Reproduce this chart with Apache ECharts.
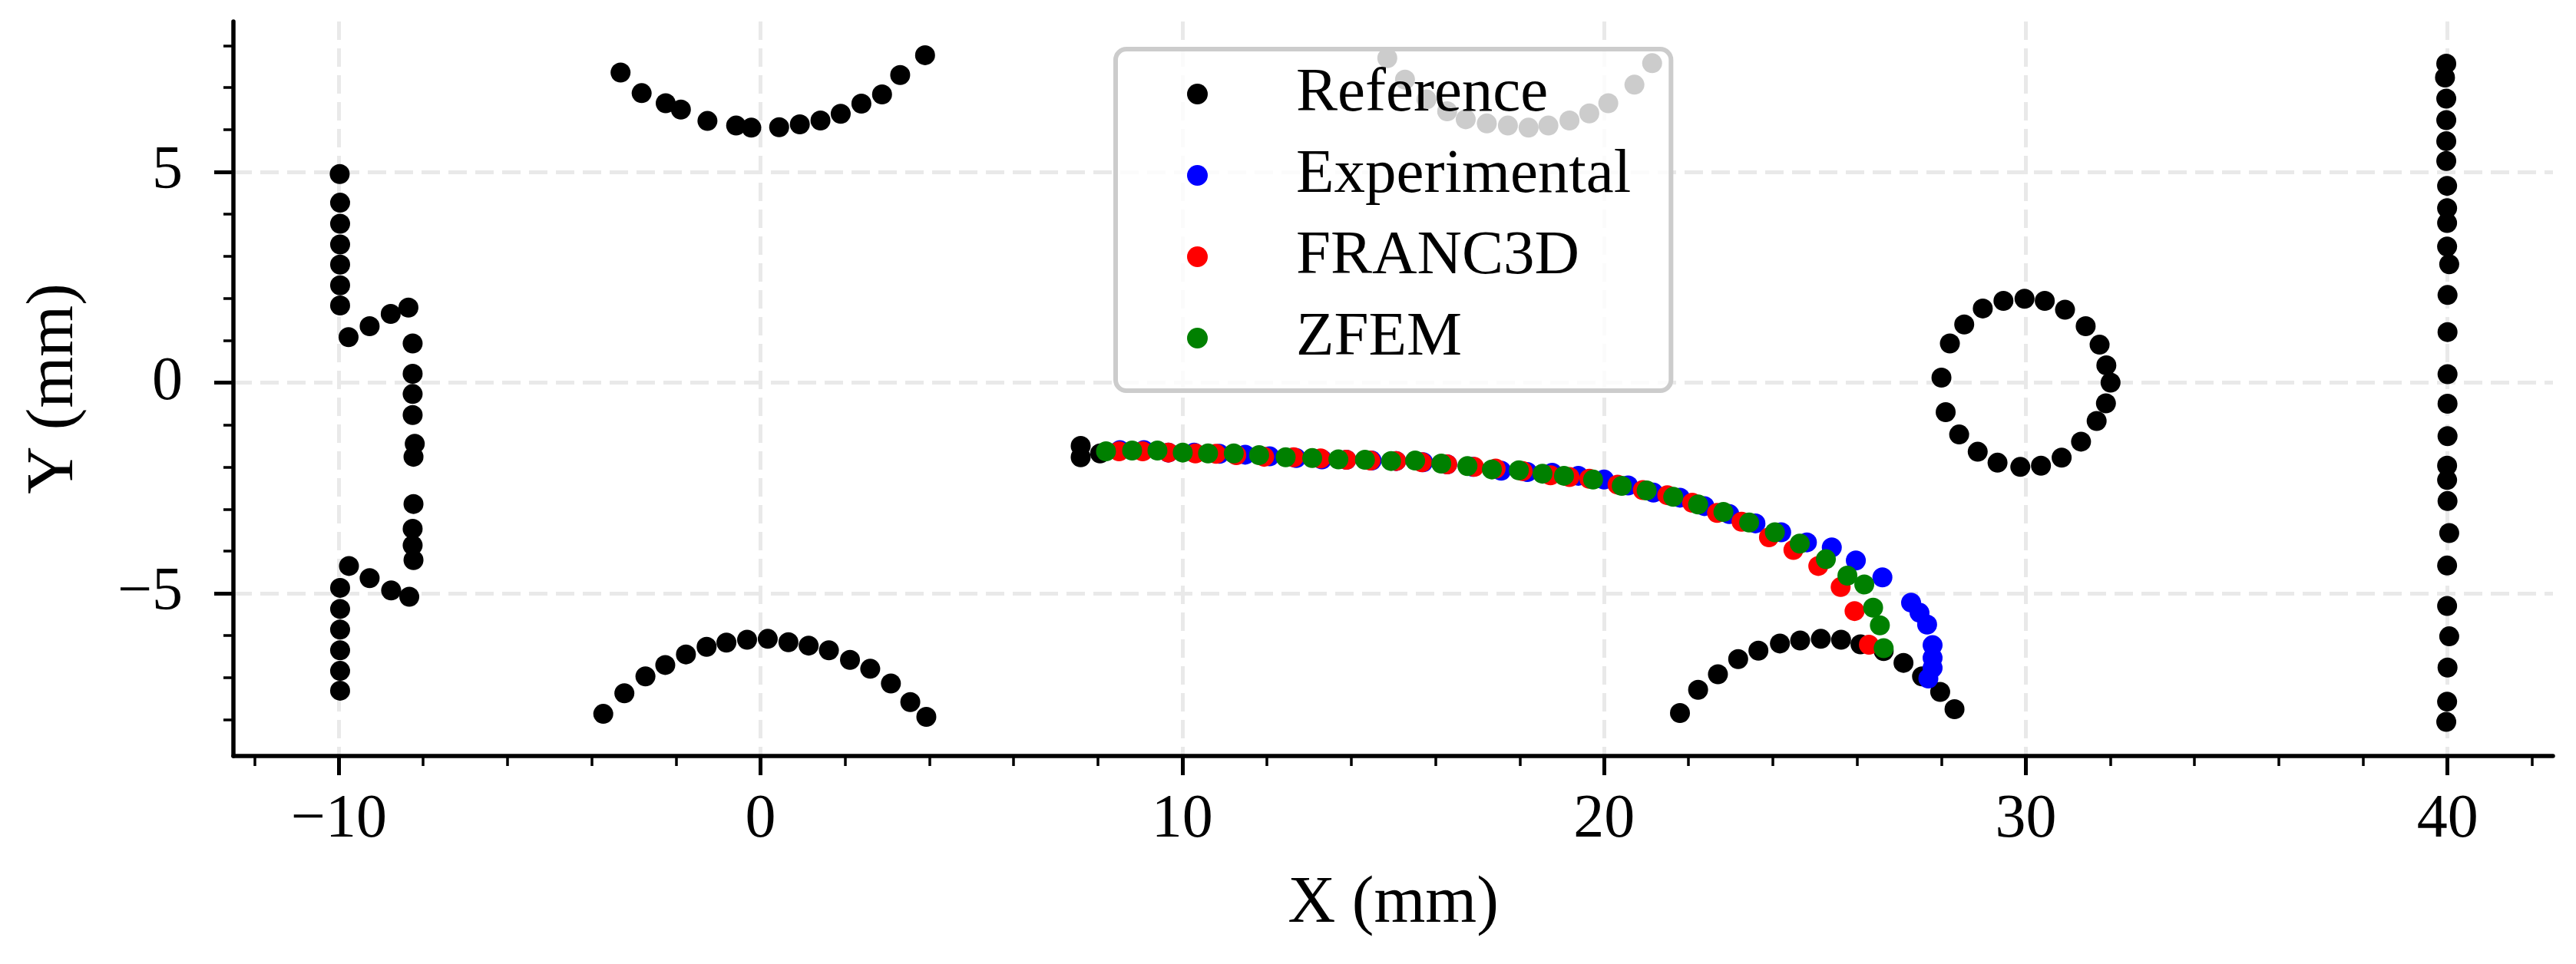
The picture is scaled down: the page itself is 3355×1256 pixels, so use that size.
<!DOCTYPE html>
<html>
<head>
<meta charset="utf-8">
<title>Crack path comparison</title>
<script src="https://cdn.jsdelivr.net/npm/echarts@6/dist/echarts.min.js"></script>
<style>
  html, body { margin: 0; padding: 0; background: #fff; }
  #chart { width: 3355px; height: 1256px; }
</style>
</head>
<body>
<div id="chart"></div>
<script>
// ---- data (mm) ----
const seriesNames = ['Reference', 'Experimental', 'FRANC3D', 'ZFEM'];

const xMajorTicks = [-10, 0, 10, 20, 30, 40];
const xMinorTicks = [-12, -8, -6, -4, -2, 2, 4, 6, 8, 12, 14, 16, 18, 22, 24, 26, 28, 32, 34, 36, 38, 42];
const yMajorTicks = [-5, 0, 5];
const yMinorTicks = [-8, -7, -6, -4, -3, -2, -1, 1, 2, 3, 4, 6, 7, 8];

// reference geometry, split by feature
const refLeftFeature = [
  [-9.98, 4.95], [-9.97, 4.27], [-9.97, 3.77], [-9.97, 3.28], [-9.97, 2.80], [-9.97, 2.31], [-9.97, 1.83],
  [-9.77, 1.08], [-9.27, 1.34], [-8.77, 1.63], [-8.35, 1.78],
  [-8.25, 0.93], [-8.25, 0.21], [-8.25, -0.27], [-8.25, -0.77], [-8.20, -1.45], [-8.23, -1.76],
  [-8.23, -2.88], [-8.25, -3.47], [-8.25, -3.86], [-8.23, -4.21],
  [-9.76, -4.35], [-9.27, -4.64], [-8.76, -4.93], [-8.33, -5.08],
  [-9.97, -4.87], [-9.97, -5.37], [-9.97, -5.86], [-9.97, -6.35], [-9.97, -6.84], [-9.97, -7.31]
];
const refTopArcA = [
  [-3.32, 7.36], [-2.82, 6.87], [-2.25, 6.63], [-1.89, 6.48], [-1.26, 6.21], [-0.58, 6.10], [-0.22, 6.05],
  [0.44, 6.06], [0.93, 6.13], [1.42, 6.22], [1.90, 6.38], [2.39, 6.62], [2.88, 6.84], [3.31, 7.30], [3.90, 7.77]
];
const refBottomArcA = [
  [-3.73, -7.86], [-3.23, -7.37], [-2.73, -6.97], [-2.26, -6.70], [-1.77, -6.45], [-1.28, -6.27],
  [-0.81, -6.17], [-0.32, -6.10], [0.17, -6.08], [0.66, -6.16], [1.14, -6.24], [1.62, -6.35],
  [2.12, -6.58], [2.60, -6.79], [3.09, -7.14], [3.55, -7.58], [3.93, -7.93]
];
const refTopArcB = [
  [14.86, 7.70], [15.28, 7.19], [15.79, 6.72], [16.28, 6.44], [16.72, 6.25], [17.22, 6.15], [17.72, 6.10],
  [18.21, 6.05], [18.68, 6.10], [19.18, 6.22], [19.65, 6.39], [20.10, 6.63], [20.72, 7.07], [21.14, 7.58]
];
const refBottomArcB = [
  [21.80, -7.84], [22.23, -7.29], [22.70, -6.92], [23.18, -6.56], [23.66, -6.36], [24.17, -6.19],
  [24.65, -6.12], [25.14, -6.08], [25.62, -6.10], [26.08, -6.21], [26.63, -6.37], [27.10, -6.65],
  [27.54, -6.97], [27.97, -7.34], [28.31, -7.75]
];
const refHole = [
  [29.97, 1.99], [30.45, 1.94], [30.93, 1.73], [31.42, 1.34], [31.75, 0.90], [31.91, 0.41], [32.01, 0.00],
  [31.90, -0.49], [31.68, -0.91], [31.31, -1.40], [30.85, -1.78], [30.36, -1.97], [29.87, -2.00],
  [29.33, -1.90], [28.86, -1.64], [28.42, -1.23], [28.10, -0.70], [28.00, 0.12], [28.20, 0.93],
  [28.54, 1.38], [28.98, 1.76], [29.47, 1.94]
];
const refRightEdge = [
  [39.97, 7.57], [39.94, 7.24], [39.97, 6.74], [39.97, 6.23], [39.97, 5.73], [39.97, 5.26], [39.99, 4.67],
  [39.99, 4.14], [39.99, 3.79], [39.99, 3.23], [40.04, 2.81], [40.00, 2.08], [40.00, 1.20], [40.00, 0.20],
  [40.00, -0.50], [40.00, -1.27], [39.99, -1.97], [39.99, -2.31], [40.00, -2.81], [40.04, -3.57],
  [39.99, -4.34], [39.99, -5.30], [40.04, -6.02], [40.00, -6.76], [39.99, -7.57], [39.97, -8.05]
];
const refCrackStart = [[7.59, -1.50], [7.59, -1.77], [8.05, -1.68]];

const experimentalPts = [
  [8.52, -1.60], [9.09, -1.60], [9.67, -1.66], [10.28, -1.66], [10.88, -1.69], [11.49, -1.71], [12.07, -1.75],
  [12.70, -1.79], [13.31, -1.82], [13.89, -1.83], [14.49, -1.85], [15.07, -1.86], [15.71, -1.89], [16.28, -1.94],
  [16.89, -2.00], [17.56, -2.09], [18.18, -2.12], [18.77, -2.14], [19.39, -2.21], [20.00, -2.30], [20.57, -2.44],
  [21.17, -2.61], [21.80, -2.73], [22.38, -2.93], [22.97, -3.12], [23.59, -3.34], [24.20, -3.55], [24.81, -3.79],
  [25.40, -3.91], [25.97, -4.22], [26.60, -4.62], [27.28, -5.22], [27.48, -5.46], [27.66, -5.74], [27.79, -6.23],
  [27.79, -6.53], [27.79, -6.77], [27.69, -7.02]
];
const franc3dPts = [
  [8.50, -1.63], [9.06, -1.63], [9.67, -1.66], [10.31, -1.68], [10.80, -1.69], [11.28, -1.72], [11.94, -1.76],
  [12.64, -1.77], [13.28, -1.80], [13.89, -1.83], [14.46, -1.85], [15.07, -1.86], [15.68, -1.89], [16.28, -1.94],
  [16.92, -2.00], [17.43, -2.04], [18.07, -2.10], [18.73, -2.20], [19.18, -2.24], [19.65, -2.28], [20.32, -2.42],
  [20.92, -2.55], [21.50, -2.67], [22.09, -2.85], [22.68, -3.09], [23.26, -3.30], [23.91, -3.67], [24.49, -3.97],
  [25.08, -4.35], [25.61, -4.85], [25.94, -5.42], [26.28, -6.22]
];
const zfemPts = [
  [8.19, -1.63], [8.81, -1.61], [9.41, -1.61], [10.01, -1.66], [10.61, -1.68], [11.22, -1.68], [11.82, -1.72],
  [12.45, -1.77], [13.08, -1.79], [13.70, -1.82], [14.33, -1.83], [14.95, -1.86], [15.52, -1.85], [16.14, -1.92],
  [16.76, -1.98], [17.34, -2.06], [17.98, -2.08], [18.54, -2.16], [19.05, -2.21], [19.74, -2.30], [20.42, -2.45],
  [21.01, -2.56], [21.64, -2.71], [22.23, -2.89], [22.83, -3.07], [23.44, -3.32], [24.05, -3.55], [24.64, -3.82],
  [25.26, -4.19], [25.77, -4.58], [26.17, -4.79], [26.38, -5.34], [26.54, -5.76], [26.63, -6.30]
];

const referencePts = [].concat(
  refLeftFeature, refTopArcA, refBottomArcA, refTopArcB, refBottomArcB, refHole, refRightEdge, refCrackStart
);

// ---- chart ----
const FONT = "'Liberation Serif', 'DejaVu Serif', serif";
const fmtTick = v => (v < 0 ? '\u2212' + Math.abs(v) : String(v));

const gridLine = { show: true, lineStyle: { color: '#e9e9e9', width: 5, type: [24, 11] } };

const chart = echarts.init(document.getElementById('chart'), null, { renderer: 'canvas' });

const option = {
  animation: false,
  backgroundColor: '#fff',
  grid: { left: 304, top: 28, width: 3021, height: 957, containLabel: false, outerBoundsMode: 'none' },
  legend: {
    data: seriesNames,
    orient: 'vertical',
    left: 1453,
    top: 64,
    padding: [18, 52, 28, 93],
    itemGap: 25,
    itemWidth: 27,
    itemHeight: 27,
    icon: 'circle',
    selectedMode: false,
    backgroundColor: 'rgba(255,255,255,0.8)',
    borderColor: '#cccccc',
    borderWidth: 6,
    borderRadius: 14,
    textStyle: { fontFamily: FONT, fontSize: 81, lineHeight: 80, color: '#000', padding: [0, 0, 0, 110] }
  },
  xAxis: [
    {
      type: 'value', min: -12.5, max: 42.5, position: 'bottom',
      name: 'X (mm)', nameLocation: 'middle', nameGap: 150,
      nameTextStyle: { fontFamily: FONT, fontSize: 86, color: '#000' },
      axisLine: { show: true, onZero: false, lineStyle: { color: '#000', width: 5.5 } },
      axisTick: { show: true, customValues: xMajorTicks, length: 25, lineStyle: { color: '#000', width: 5 } },
      axisLabel: { customValues: xMajorTicks, formatter: fmtTick, fontFamily: FONT, fontSize: 80, color: '#000', margin: 44 },
      splitLine: gridLine
    },
    {
      type: 'value', min: -12.5, max: 42.5, position: 'bottom', gridIndex: 0,
      axisLine: { show: false, onZero: false },
      axisTick: { show: true, customValues: xMinorTicks, length: 13, lineStyle: { color: '#000', width: 3.5 } },
      axisLabel: { show: false },
      splitLine: { show: false }
    }
  ],
  yAxis: [
    {
      type: 'value', min: -8.86, max: 8.57, position: 'left',
      name: 'Y (mm)', nameLocation: 'middle', nameGap: 190,
      nameTextStyle: { fontFamily: FONT, fontSize: 86, color: '#000' },
      axisLine: { show: true, onZero: false, lineStyle: { color: '#000', width: 5.5 } },
      axisTick: { show: true, customValues: yMajorTicks, length: 25, lineStyle: { color: '#000', width: 5 } },
      axisLabel: { customValues: yMajorTicks, formatter: fmtTick, fontFamily: FONT, fontSize: 80, color: '#000', margin: 66 },
      splitLine: gridLine
    },
    {
      type: 'value', min: -8.86, max: 8.57, position: 'left', gridIndex: 0,
      axisLine: { show: false, onZero: false },
      axisTick: { show: true, customValues: yMinorTicks, length: 13, lineStyle: { color: '#000', width: 3.5 } },
      axisLabel: { show: false },
      splitLine: { show: false }
    }
  ],
  series: [
    { name: 'Reference', type: 'scatter', data: referencePts, symbolSize: 26, itemStyle: { color: '#000000', opacity: 1 } },
    { name: 'Experimental', type: 'scatter', data: experimentalPts, symbolSize: 26, itemStyle: { color: '#0000ff', opacity: 1 } },
    { name: 'FRANC3D', type: 'scatter', data: franc3dPts, symbolSize: 26, itemStyle: { color: '#ff0000', opacity: 1 } },
    { name: 'ZFEM', type: 'scatter', data: zfemPts, symbolSize: 26, itemStyle: { color: '#008000', opacity: 1 } }
  ]
};

chart.setOption(option);
</script>
</body>
</html>
